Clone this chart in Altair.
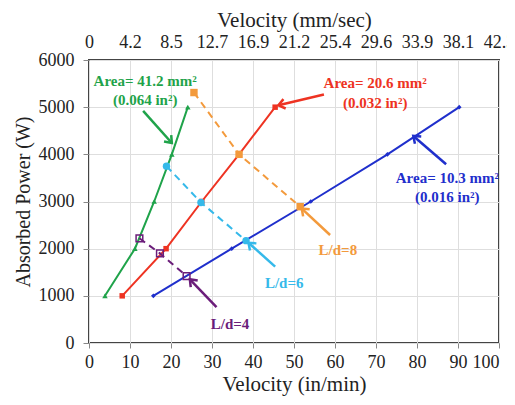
import math
import altair as alt
import pandas as pd

# ---------------- data ----------------
power = [1000, 2000, 3000, 4000, 5000]
green_v = [3.9, 11.2, 15.9, 20.2, 24.1]    # Area = 41.2 mm2
red_v = [8.1, 18.8, 27.5, 36.6, 45.4]      # Area = 20.6 mm2
blue_v = [15.7, 34.8, 54.1, 72.8, 90.3]    # Area = 10.3 mm2

ld4_v = [12.3, 17.3, 23.8]
ld4_p = [2220, 1900, 1420]
ld6_v = [18.9, 27.3, 38.3]
ld6_p = [3750, 2980, 2170]
ld8_v = [25.6, 36.6, 51.5]
ld8_p = [5310, 4000, 2890]

x_ticks = [0, 10, 20, 30, 40, 50, 60, 70, 80, 90, 100]
top_labels = ["0", "4.2", "8.5", "12.7", "16.9", "21.2", "25.4", "29.6", "33.9", "38.1", "42.3"]
y_ticks = [0, 1000, 2000, 3000, 4000, 5000, 6000]

GREEN = "#1fa34a"
RED = "#ee3322"
BLUE = "#1f2fcc"
ORANGE = "#f39a3c"
LBLUE = "#35b9ea"
PURPLE = "#6b1d7a"

label_text = ["Area= 41.2 mm²", "(0.064 in²)", "Area= 20.6 mm²", "(0.032 in²)",
              "Area= 10.3 mm²", "(0.016 in²)", "L/d=8", "L/d=6", "L/d=4"]
label_v = [13.7, 13.7, 69.8, 69.8, 87.4, 87.4, 60.7, 47.6, 34.4]
label_p = [5560, 5150, 5510, 5085, 3500, 3095, 1970, 1270, 400]
label_color = [GREEN, GREEN, RED, RED, BLUE, BLUE, ORANGE, LBLUE, PURPLE]

arrow_v1 = [13.2, 57.3, 87.1, 58.8, 45.4, 31.1]
arrow_p1 = [4920, 5270, 3790, 2290, 1620, 760]
arrow_v2 = [20.2, 46.2, 79.1, 51.9, 38.9, 24.6]
arrow_p2 = [4240, 5040, 4390, 2850, 2125, 1350]
arrow_color = [GREEN, RED, BLUE, ORANGE, LBLUE, PURPLE]

# ---------------- layout ----------------
W, H = 410, 283
FONT = "Liberation Serif"
TXT = "#222222"
xs = alt.Scale(domain=[0, 100], nice=False, zero=False)
ys = alt.Scale(domain=[0, 6000], nice=False)
LAST_ALIGN = {"expr": "datum.value == 100 ? 'right' : 'center'"}

y_axis = alt.Axis(values=y_ticks, grid=True, gridColor="#dedede", tickSize=6,
                  tickColor="#888", domain=False, labelPadding=9, titlePadding=5,
                  labelFontSize=18, titleFontSize=20, labelFont=FONT, titleFont=FONT,
                  labelColor=TXT, titleColor=TXT, titleFontWeight="normal",
                  labelOverlap=False, format="d")
Y_TITLE = "Absorbed Power (W)"


def Y(field):
    return alt.Y(field, scale=ys, axis=y_axis, title=Y_TITLE)


def X(field):
    return alt.X(field, scale=xs, axis=None)


def series(vs, ps, color, shape, filled, size, dash=None, sw=2):
    df = pd.DataFrame({"v": vs, "p": ps})
    base = alt.Chart(df).encode(x=X("v:Q"), y=Y("p:Q"))
    if dash:
        line = base.mark_line(color=color, strokeWidth=sw, strokeDash=dash)
    else:
        line = base.mark_line(color=color, strokeWidth=sw)
    pts = base.mark_point(shape=shape, filled=filled, color=color, size=size,
                          opacity=1, strokeWidth=1.5)
    return line + pts


dummy = pd.DataFrame({"v": [0], "p": [0]})
bottom_axis = alt.Chart(dummy).mark_point(opacity=0).encode(
    x=alt.X("v:Q", scale=xs, title="Velocity (in/min)",
            axis=alt.Axis(orient="bottom", values=x_ticks, grid=True, gridColor="#dedede",
                          tickSize=5, tickColor="#888", domain=False, labelPadding=5,
                          titlePadding=2, labelFontSize=18, titleFontSize=21,
                          labelFont=FONT, titleFont=FONT, labelColor=TXT,
                          titleColor=TXT, titleFontWeight="normal", labelOverlap=False,
                          labelFlush=False, labelAlign=LAST_ALIGN)),
    y=Y("p:Q"),
)

top_expr = ""
for t, lab in zip(x_ticks, top_labels):
    top_expr += f"datum.value == {t} ? '{lab}' : "
top_expr += "''"

top_axis = alt.Chart(dummy).mark_point(opacity=0).encode(
    x=alt.X("v:Q", scale=xs, title="Velocity (mm/sec)",
            axis=alt.Axis(orient="top", values=x_ticks, grid=False, tickSize=0,
                          domain=False, labelExpr=top_expr, labelPadding=9,
                          titlePadding=3, labelFontSize=18, titleFontSize=21,
                          labelFont=FONT, titleFont=FONT, labelColor=TXT,
                          titleColor=TXT, titleFontWeight="normal", labelOverlap=False,
                          labelFlush=False)),
    y=Y("p:Q"),
)

green = series(green_v, power, GREEN, "triangle-up", True, 30)
red = series(red_v, power, RED, "square", True, 30)
blue = series(blue_v, power, BLUE, "diamond", True, 22)
ld8 = series(ld8_v, ld8_p, ORANGE, "square", True, 55, dash=[7, 5])
ld6 = series(ld6_v, ld6_p, LBLUE, "circle", True, 55, dash=[7, 5])
ld4 = series(ld4_v, ld4_p, PURPLE, "square", False, 45, dash=[7, 5])

# arrows
sx = W / 100.0
sy = H / 6000.0
angles = []
for a, b, c, d in zip(arrow_v1, arrow_p1, arrow_v2, arrow_p2):
    dx = (c - a) * sx
    dy = -(d - b) * sy
    angles.append(math.degrees(math.atan2(dx, -dy)) % 360)

arr = pd.DataFrame({"v1": arrow_v1, "p1": arrow_p1, "v2": arrow_v2, "p2": arrow_p2,
                    "c": arrow_color, "ang": angles})
shafts = alt.Chart(arr).mark_rule(strokeWidth=2.5).encode(
    x=X("v1:Q"), y=Y("p1:Q"), x2="v2:Q", y2="p2:Q",
    color=alt.Color("c:N", scale=None),
)
heads = alt.Chart(arr).mark_point(shape="M -0.65 0.85 L 0 0 L 0.65 0.85", filled=False,
                                  strokeWidth=2.5, size=220, opacity=1).encode(
    x=X("v2:Q"), y=Y("p2:Q"),
    color=alt.Color("c:N", scale=None), angle=alt.Angle("ang:Q", scale=None),
)

labels = pd.DataFrame({"v": label_v, "p": label_p, "t": label_text, "c": label_color})
texts = alt.Chart(labels).mark_text(font=FONT, fontSize=15, fontWeight="bold").encode(
    x=X("v:Q"), y=Y("p:Q"),
    text="t:N", color=alt.Color("c:N", scale=None),
)

chart = alt.layer(
    bottom_axis, top_axis, green, red, blue, ld8, ld6, ld4, shafts, heads, texts
).resolve_axis(x="independent").properties(
    width=W, height=H,
    background="white",
    autosize=alt.AutoSizeParams(type="none"),
    padding={"left": 81, "top": 52, "right": 8, "bottom": 53},
).configure_view(stroke="#444444", strokeWidth=2)

chart.save("out.html", embed_options={"renderer": "svg", "actions": False})
